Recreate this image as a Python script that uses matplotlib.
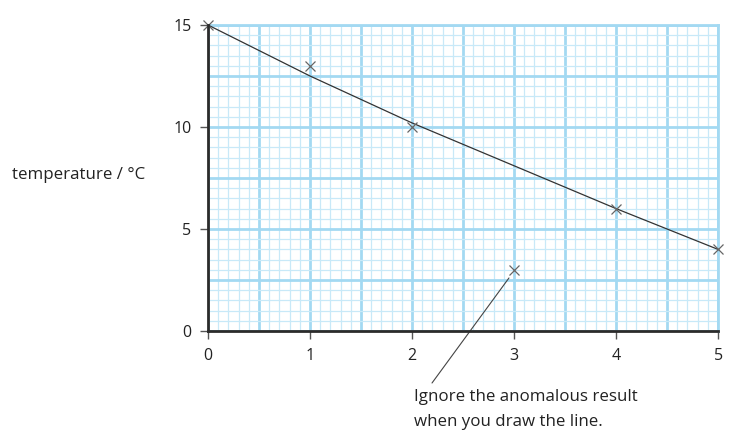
import matplotlib.pyplot as plt
from matplotlib.ticker import MultipleLocator

# measured points
time_vals = [0, 1, 2, 3, 4, 5]
temp_vals = [15, 13, 10, 3, 6, 4]

# line of best fit as drawn
fit_x = [0, 1, 2, 3, 4, 5]
fit_y = [15, 12.5, 10.2, 8.1, 6.0, 4.0]

x_ticks = [0, 1, 2, 3, 4, 5]
y_ticks = [0, 5, 10, 15]

plt.rcParams['font.family'] = ['Open Sans', 'DejaVu Sans']

fig = plt.figure(figsize=(7.35, 4.41), dpi=100)
ax = fig.add_axes([0.283, 0.2494, 0.694, 0.6939])

ax.set_xlim(0, 5)
ax.set_ylim(0, 15)

# graph paper
ax.xaxis.set_major_locator(MultipleLocator(0.5))
ax.xaxis.set_minor_locator(MultipleLocator(0.1))
ax.yaxis.set_major_locator(MultipleLocator(2.5))
ax.yaxis.set_minor_locator(MultipleLocator(0.5))
ax.grid(which='major', color='#a3d9f2', linewidth=2.0)
ax.grid(which='minor', color='#c8e9f8', linewidth=0.9)
ax.set_axisbelow(True)

# real ticks drawn separately so labels only at integers
ax.tick_params(which='both', length=0, labelbottom=False, labelleft=False)
sec_x = ax.secondary_xaxis('bottom')
sec_x.set_xticks(x_ticks)
sec_x.set_xticklabels([str(v) for v in x_ticks])
sec_x.tick_params(length=6, width=1, color='#555555', labelsize=11.5, labelcolor='#222222', pad=6)
sec_x.spines['bottom'].set_visible(False)
sec_y = ax.secondary_yaxis('left')
sec_y.set_yticks(y_ticks)
sec_y.set_yticklabels([str(v) for v in y_ticks])
sec_y.tick_params(length=6, width=1, color='#555555', labelsize=11.5, labelcolor='#222222', pad=6)
sec_y.spines['left'].set_visible(False)

for side in ['top', 'right']:
    ax.spines[side].set_color('#a3d9f2')
    ax.spines[side].set_linewidth(2.0)
for side in ['bottom', 'left']:
    ax.spines[side].set_color('#2b2b2b')
    ax.spines[side].set_linewidth(2.0)
    ax.spines[side].set_zorder(5)

ax.plot(fit_x, fit_y, color='#333333', linewidth=0.9, zorder=3)
ax.plot(time_vals, temp_vals, linestyle='none', marker='x', markersize=7,
        markeredgewidth=0.9, color='#666666', zorder=4, clip_on=False)

ax.annotate('Ignore the anomalous result\nwhen you draw the line.',
            xy=(2.95, 2.6), xytext=(2.02, -2.85),
            textcoords='data', fontsize=12.2, color='#222222',
            ha='left', va='top', linespacing=1.7,
            annotation_clip=False,
            arrowprops=dict(arrowstyle='-', color='#444444', linewidth=0.8,
                            shrinkA=3, shrinkB=0,
                            relpos=(0.06, 1.0)))

fig.text(0.016, 0.603, 'temperature / °C', fontsize=12.2, color='#222222',
         ha='left', va='center')

fig.savefig('out.png', dpi=100)
